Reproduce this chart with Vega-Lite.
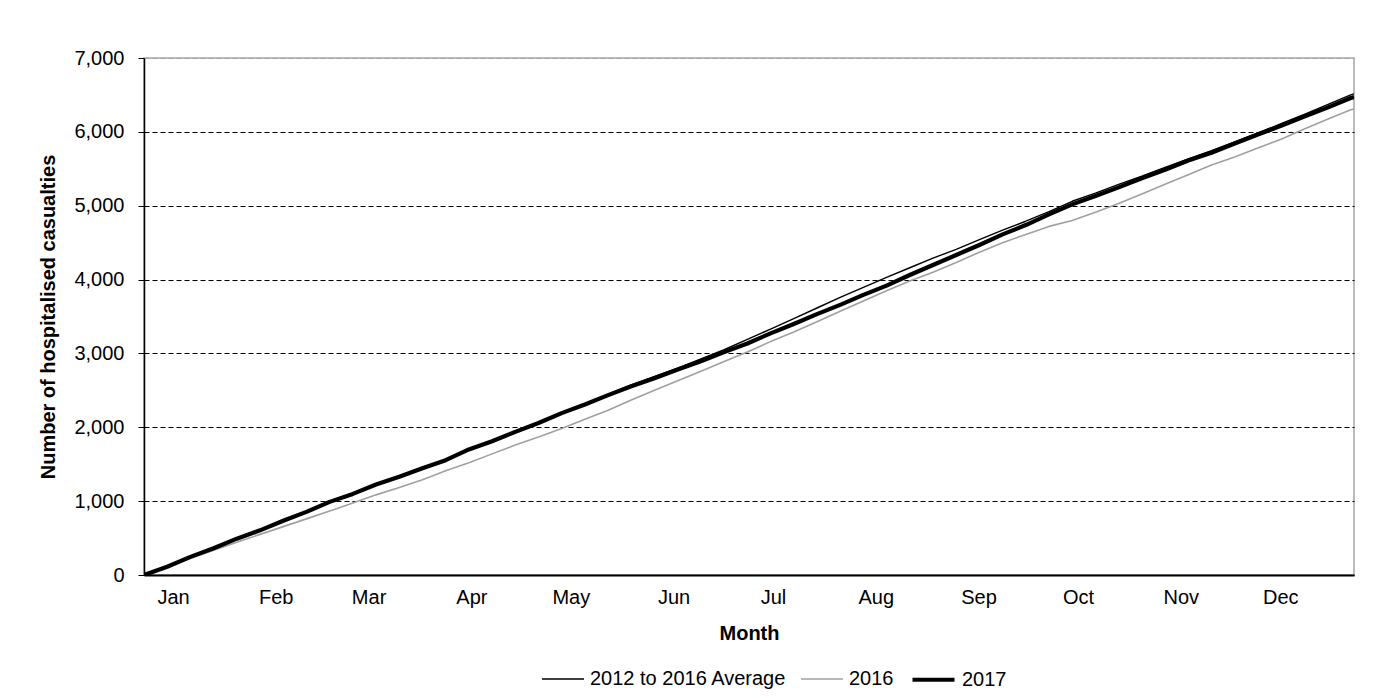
{
  "$schema": "https://vega.github.io/schema/vega-lite/v6.json",
  "width": 1210,
  "height": 517,
  "padding": {"left": 38, "top": 48, "right": 5, "bottom": 5},
  "background": "white",
  "config": {
    "font": "Liberation Sans",
    "view": {"stroke": "#a6a6a6", "strokeWidth": 1.5},
    "axis": {"labelColor": "black", "titleColor": "black", "domainColor": "black", "tickColor": "black", "labelFontSize": 20, "titleFontSize": 20, "titleFontWeight": "bold", "labelFont": "Liberation Sans", "titleFont": "Liberation Sans"},
    "legend": {"labelFont": "Liberation Sans", "labelColor": "black"}
  },
  "data": {
    "values": [
      {"day": 0, "2012 to 2016 Average": 0, "2016": 0, "2017": 0},
      {"day": 7, "2012 to 2016 Average": 115, "2016": 110, "2017": 112},
      {"day": 14, "2012 to 2016 Average": 240, "2016": 225, "2017": 245},
      {"day": 21, "2012 to 2016 Average": 365, "2016": 335, "2017": 362},
      {"day": 28, "2012 to 2016 Average": 490, "2016": 445, "2017": 492},
      {"day": 35, "2012 to 2016 Average": 610, "2016": 550, "2017": 605},
      {"day": 42, "2012 to 2016 Average": 730, "2016": 655, "2017": 735},
      {"day": 49, "2012 to 2016 Average": 860, "2016": 760, "2017": 855},
      {"day": 56, "2012 to 2016 Average": 985, "2016": 865, "2017": 990},
      {"day": 63, "2012 to 2016 Average": 1100, "2016": 975, "2017": 1098},
      {"day": 70, "2012 to 2016 Average": 1220, "2016": 1085, "2017": 1225},
      {"day": 77, "2012 to 2016 Average": 1335, "2016": 1185, "2017": 1330},
      {"day": 84, "2012 to 2016 Average": 1450, "2016": 1290, "2017": 1445},
      {"day": 91, "2012 to 2016 Average": 1570, "2016": 1410, "2017": 1555},
      {"day": 98, "2012 to 2016 Average": 1695, "2016": 1520, "2017": 1700},
      {"day": 105, "2012 to 2016 Average": 1815, "2016": 1640, "2017": 1810},
      {"day": 112, "2012 to 2016 Average": 1940, "2016": 1760, "2017": 1938},
      {"day": 119, "2012 to 2016 Average": 2065, "2016": 1870, "2017": 2058},
      {"day": 126, "2012 to 2016 Average": 2195, "2016": 1985, "2017": 2192},
      {"day": 133, "2012 to 2016 Average": 2320, "2016": 2110, "2017": 2308},
      {"day": 140, "2012 to 2016 Average": 2445, "2016": 2230, "2017": 2435},
      {"day": 147, "2012 to 2016 Average": 2575, "2016": 2370, "2017": 2555},
      {"day": 154, "2012 to 2016 Average": 2690, "2016": 2500, "2017": 2665},
      {"day": 161, "2012 to 2016 Average": 2800, "2016": 2630, "2017": 2782},
      {"day": 168, "2012 to 2016 Average": 2925, "2016": 2760, "2017": 2895},
      {"day": 175, "2012 to 2016 Average": 3050, "2016": 2890, "2017": 3018},
      {"day": 182, "2012 to 2016 Average": 3190, "2016": 3020, "2017": 3135},
      {"day": 189, "2012 to 2016 Average": 3330, "2016": 3160, "2017": 3272},
      {"day": 196, "2012 to 2016 Average": 3470, "2016": 3290, "2017": 3398},
      {"day": 203, "2012 to 2016 Average": 3615, "2016": 3430, "2017": 3532},
      {"day": 210, "2012 to 2016 Average": 3760, "2016": 3570, "2017": 3658},
      {"day": 217, "2012 to 2016 Average": 3895, "2016": 3710, "2017": 3792},
      {"day": 224, "2012 to 2016 Average": 4030, "2016": 3850, "2017": 3918},
      {"day": 231, "2012 to 2016 Average": 4160, "2016": 3980, "2017": 4062},
      {"day": 238, "2012 to 2016 Average": 4290, "2016": 4100, "2017": 4198},
      {"day": 245, "2012 to 2016 Average": 4410, "2016": 4230, "2017": 4332},
      {"day": 252, "2012 to 2016 Average": 4540, "2016": 4370, "2017": 4468},
      {"day": 259, "2012 to 2016 Average": 4670, "2016": 4500, "2017": 4612},
      {"day": 266, "2012 to 2016 Average": 4790, "2016": 4610, "2017": 4738},
      {"day": 273, "2012 to 2016 Average": 4920, "2016": 4720, "2017": 4882},
      {"day": 280, "2012 to 2016 Average": 5060, "2016": 4800, "2017": 5018},
      {"day": 287, "2012 to 2016 Average": 5170, "2016": 4910, "2017": 5132},
      {"day": 294, "2012 to 2016 Average": 5290, "2016": 5030, "2017": 5248},
      {"day": 301, "2012 to 2016 Average": 5400, "2016": 5160, "2017": 5372},
      {"day": 308, "2012 to 2016 Average": 5520, "2016": 5290, "2017": 5488},
      {"day": 315, "2012 to 2016 Average": 5635, "2016": 5420, "2017": 5612},
      {"day": 322, "2012 to 2016 Average": 5745, "2016": 5550, "2017": 5718},
      {"day": 329, "2012 to 2016 Average": 5865, "2016": 5660, "2017": 5842},
      {"day": 336, "2012 to 2016 Average": 5985, "2016": 5780, "2017": 5965},
      {"day": 343, "2012 to 2016 Average": 6110, "2016": 5900, "2017": 6082},
      {"day": 350, "2012 to 2016 Average": 6235, "2016": 6040, "2017": 6208},
      {"day": 357, "2012 to 2016 Average": 6370, "2016": 6170, "2017": 6328},
      {"day": 364, "2012 to 2016 Average": 6500, "2016": 6300, "2017": 6458},
      {"day": 365, "2012 to 2016 Average": 6515, "2016": 6310, "2017": 6472}
    ]
  },
  "transform": [
    {"fold": ["2012 to 2016 Average", "2016", "2017"], "as": ["series", "value"]}
  ],
  "mark": {"type": "line", "strokeJoin": "round", "clip": true},
  "encoding": {
    "x": {
      "field": "day",
      "type": "quantitative",
      "scale": {"domain": [0, 365], "nice": false, "zero": false},
      "axis": {
        "title": "Month",
        "values": [0, 31, 59, 90, 120, 151, 181, 212, 243, 273, 304, 334],
        "labelExpr": "['Jan','Feb','Mar','Apr','May','Jun','Jul','Aug','Sep','Oct','Nov','Dec'][indexof([0,31,59,90,120,151,181,212,243,273,304,334], datum.value)]",
        "labelOffset": 29,
        "labelFlush": false,
        "labelOverlap": false,
        "ticks": false,
        "grid": false,
        "labelPadding": 12,
        "titlePadding": 16,
        "domainWidth": 2
      }
    },
    "y": {
      "field": "value",
      "type": "quantitative",
      "scale": {"domain": [0, 7000], "nice": false},
      "axis": {
        "title": "Number of hospitalised casualties",
        "values": [0, 1000, 2000, 3000, 4000, 5000, 6000, 7000],
        "format": ",.0f",
        "grid": true,
        "gridDash": [5, 3],
        "gridColor": {"condition": {"test": "datum.value === 7000", "value": "#a6a6a6"}, "value": "black"},
        "gridWidth": 1,
        "tickSize": 6,
        "labelPadding": 14,
        "titlePadding": 15,
        "domainWidth": 1.5
      }
    },
    "color": {
      "field": "series",
      "type": "ordinal",
      "scale": {"type": "ordinal", "domain": ["2012 to 2016 Average", "2016", "2017"], "range": ["black", "#a0a0a0", "black"]},
      "legend": {"title": null, "orient": "none", "legendX": 397, "legendY": 598, "direction": "horizontal", "symbolType": "stroke", "symbolSize": 1764, "labelFontSize": 20, "labelLimit": 400, "labelOffset": 5, "columnPadding": 10, "padding": 0}
    },
    "strokeWidth": {
      "field": "series",
      "type": "ordinal",
      "scale": {"type": "ordinal", "domain": ["2012 to 2016 Average", "2016", "2017"], "range": [1.4, 1.6, 4.2]},
      "legend": {"title": null, "orient": "none", "legendX": 397, "legendY": 598, "direction": "horizontal", "symbolType": "stroke", "symbolSize": 1764, "labelFontSize": 20, "labelLimit": 400, "labelOffset": 5, "columnPadding": 10, "padding": 0}
    }
  }
}
